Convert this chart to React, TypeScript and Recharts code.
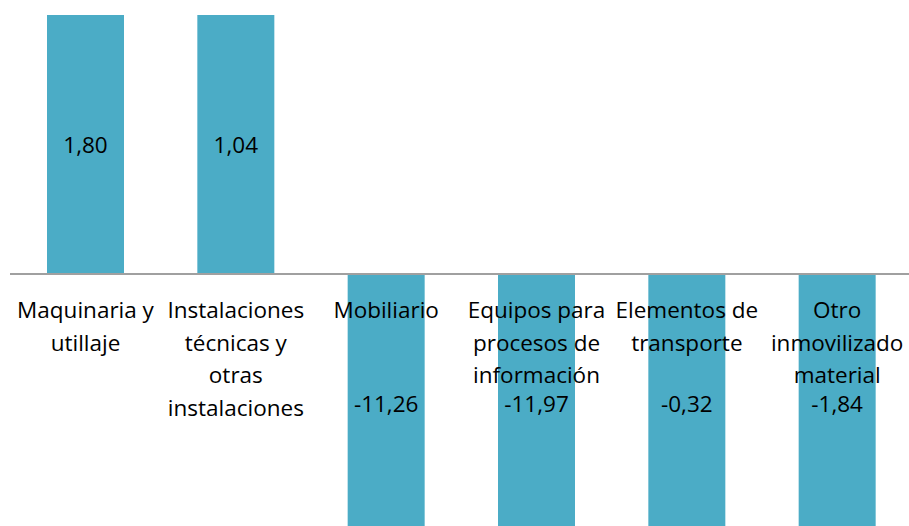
import { BarChart, Bar, XAxis, YAxis, ReferenceLine, LabelList } from 'recharts'

// Variación (%) por tipo de inmovilizado material
const CATEGORIES = [
  'Maquinaria y utillaje',
  'Instalaciones técnicas y otras instalaciones',
  'Mobiliario',
  'Equipos para procesos de información',
  'Elementos de transporte',
  'Otro inmovilizado material',
]

// how each category label wraps under the axis
const CATEGORY_LINES = [
  ['Maquinaria y', 'utillaje'],
  ['Instalaciones', 'técnicas y', 'otras', 'instalaciones'],
  ['Mobiliario'],
  ['Equipos para', 'procesos de', 'información'],
  ['Elementos de', 'transporte'],
  ['Otro', 'inmovilizado', 'material'],
]

const VALUES = [1.8, 1.04, -11.26, -11.97, -0.32, -1.84]

// the source chart's value axis is cut very short, so every bar runs off the plot
const Y_DOMAIN: [number, number] = [-0.3, 0.3]

const data = CATEGORIES.map((name, i) => ({ name, value: VALUES[i], idx: i }))

const W = 912
const H = 540
const MARGIN = { top: 15, right: 0, bottom: 7, left: 10 }
const PLOT_TOP = MARGIN.top
const PLOT_BOTTOM = H - MARGIN.bottom
const FONT = '"Open Sans", sans-serif'
const FONT_SIZE = 22.5
const LINE_H = 32.5
const BAR_COLOR = '#4bacc6'

const fmt = (v: number) => v.toFixed(2).replace('.', ',')

const clamp = (v: number) => Math.max(PLOT_TOP, Math.min(PLOT_BOTTOM, v))

// value label, centred on the visible part of the bar
const ValueLabel = (props: any) => {
  const { x, y, width, height, value } = props
  const zero = y + height
  const end = clamp(y)
  const cy = (zero + end) / 2
  return (
    <text
      x={x + width / 2}
      y={cy}
      textAnchor="middle"
      dominantBaseline="central"
      fontFamily={FONT}
      fontSize={FONT_SIZE}
      fill="#000"
    >
      {fmt(Number(value))}
    </text>
  )
}

// category label drawn just under the zero line
const CategoryLabel = (props: any) => {
  const { x, y, width, height, index } = props
  const zero = y + height
  const lines = CATEGORY_LINES[index] ?? []
  return (
    <text
      textAnchor="middle"
      dominantBaseline="central"
      fontFamily={FONT}
      fontSize={FONT_SIZE}
      fill="#000"
    >
      {lines.map((l, i) => (
        <tspan key={i} x={x + width / 2} y={zero + 35 + i * LINE_H}>
          {l}
        </tspan>
      ))}
    </text>
  )
}

export default function App() {
  return (
    <div
      style={{
        position: 'absolute',
        left: 0,
        top: 0,
        width: 909,
        height: 526,
        overflow: 'hidden',
        background: '#fff',
      }}
    >
      <BarChart width={W} height={H} data={data} margin={MARGIN} barSize={77}>
        <XAxis dataKey="name" hide />
        <YAxis hide domain={Y_DOMAIN} allowDataOverflow />
        <Bar dataKey="value" fill={BAR_COLOR} isAnimationActive={false}>
          <LabelList dataKey="value" content={<ValueLabel />} />
          <LabelList dataKey="idx" content={<CategoryLabel />} />
        </Bar>
        <ReferenceLine y={0} stroke="#a0a0a0" strokeWidth={2} />
      </BarChart>
    </div>
  )
}
